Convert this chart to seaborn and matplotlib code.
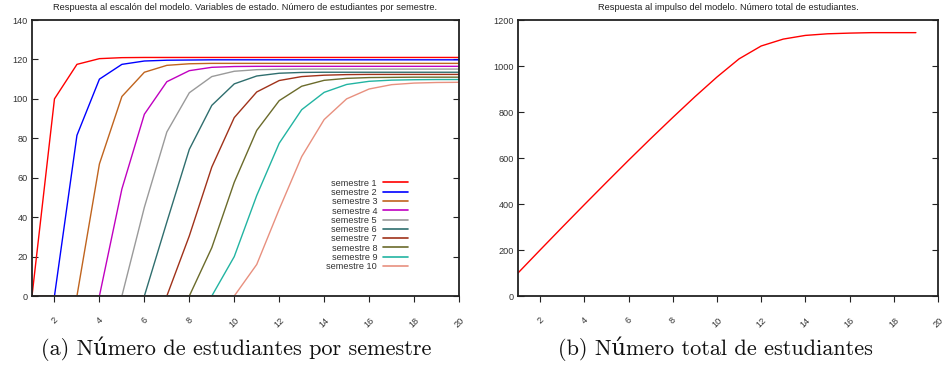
import numpy as np
import pandas as pd
import seaborn as sns
import matplotlib.pyplot as plt
from matplotlib.lines import Line2D

# Time steps (semesters) of the simulation
pasos = list(range(1, 21))

# Step response: students enrolled in each semester (state variables)
semestre_1 = [0, 100, 117.5, 120.4, 120.9, 121, 121, 121, 121, 121, 121, 121, 121, 121, 121, 121, 121, 121, 121, 121]
semestre_2 = [0, 0, 81.5, 110, 117.5, 119.2, 119.6, 119.7, 119.8, 119.8, 119.8, 119.8, 119.8, 119.8, 119.8, 119.8, 119.8, 119.8, 119.8, 119.8]
semestre_3 = [0, 0, 0, 67, 101.2, 113.5, 117, 117.8, 118, 118, 118, 118, 118, 118, 118, 118, 118, 118, 118, 118]
semestre_4 = [0, 0, 0, 0, 54.3, 92.2, 108.7, 114.3, 116, 116.4, 116.5, 116.5, 116.5, 116.5, 116.5, 116.5, 116.5, 116.5, 116.5, 116.5]
semestre_5 = [0, 0, 0, 0, 0, 45, 83.2, 103.1, 111.3, 114, 114.8, 115, 115.1, 115.1, 115.1, 115.1, 115.1, 115.1, 115.1, 115.1]
semestre_6 = [0, 0, 0, 0, 0, 0, 37.5, 74.4, 96.7, 107.6, 111.6, 113, 113.4, 113.5, 113.5, 113.5, 113.5, 113.5, 113.5, 113.5]
semestre_7 = [0, 0, 0, 0, 0, 0, 0, 30.5, 65.4, 90.5, 103.5, 109.3, 111.3, 112, 112.3, 112.4, 112.4, 112.4, 112.4, 112.4]
semestre_8 = [0, 0, 0, 0, 0, 0, 0, 0, 24.5, 57.7, 84, 99.1, 106.4, 109.4, 110.4, 110.8, 110.9, 111, 111, 111]
semestre_9 = [0, 0, 0, 0, 0, 0, 0, 0, 0, 20, 51, 77.5, 94.5, 103.3, 107.3, 108.9, 109.5, 109.7, 109.8, 109.8]
semestre_10 = [0, 0, 0, 0, 0, 0, 0, 0, 0, 0, 16, 44, 70.7, 89.5, 100, 105, 107.2, 108, 108.3, 108.4]

etiquetas = ["semestre 1", "semestre 2", "semestre 3", "semestre 4", "semestre 5",
             "semestre 6", "semestre 7", "semestre 8", "semestre 9", "semestre 10"]
colores = ["#ff0000", "#0000ff", "#c0641e", "#c000c0", "#9a9a9a",
           "#2f6e6e", "#a0321a", "#6b6b2b", "#22b4a2", "#e8907f"]

# Impulse response: total number of students
pasos_total = list(range(1, 20))
total = [100, 200, 299, 397, 494, 590, 684, 776, 866, 952, 1031, 1087, 1117, 1133, 1140, 1143, 1145, 1145, 1145]

series = [semestre_1, semestre_2, semestre_3, semestre_4, semestre_5,
          semestre_6, semestre_7, semestre_8, semestre_9, semestre_10]
df = pd.DataFrame({
    "paso": np.tile(pasos, len(series)),
    "valor": np.concatenate(series),
    "serie": np.repeat(etiquetas, len(pasos)),
})
df_total = pd.DataFrame({"paso": pasos_total, "total": total})

sns.set_theme(style="white")
plt.rcParams["font.family"] = ["Liberation Sans", "DejaVu Sans"]

fig = plt.figure(figsize=(9.45, 3.68), dpi=100)
ax1 = fig.add_axes([32 / 945, 72 / 368, 427 / 945, 276 / 368])
ax2 = fig.add_axes([518 / 945, 72 / 368, 420 / 945, 276 / 368])

sns.lineplot(data=df, x="paso", y="valor", hue="serie", hue_order=etiquetas,
             palette=colores, linewidth=1.0, ax=ax1, legend=False)
sns.lineplot(data=df_total, x="paso", y="total", color="#ff0000", linewidth=1.0, ax=ax2)


def estilo(ax, ymax, ystep, fs_tick, fs_title, titulo):
    ax.set_xlim(1, 20)
    ax.set_ylim(0, ymax)
    ax.set_xticks(range(2, 21, 2))
    ax.set_yticks(range(0, ymax + 1, ystep))
    ax.set_xlabel("")
    ax.set_ylabel("")
    for s in ax.spines.values():
        s.set_color("#222222")
        s.set_linewidth(1.3)
        s.set_visible(True)
    ax.tick_params(axis="y", which="both", direction="in", length=4, width=0.8,
                   color="#222222", left=True, right=True, labelsize=fs_tick,
                   labelcolor="#333333", pad=3)
    ax.tick_params(axis="x", which="both", direction="out", length=4, width=0.8,
                   color="#222222", bottom=True, top=False, labelsize=fs_tick,
                   labelcolor="#333333", pad=10)
    for lab in ax.get_xticklabels():
        lab.set_rotation(45)
        lab.set_ha("center")
        lab.set_va("top")
    ax.set_title(titulo, fontsize=fs_title, color="#222222", pad=7)


estilo(ax1, 140, 20, 6.6, 6.7,
       "Respuesta al escalón del modelo. Variables de estado. Número de estudiantes por semestre.")
estilo(ax2, 1200, 200, 6.6, 6.7,
       "Respuesta al impulso del modelo. Número total de estudiantes.")

handles = [Line2D([], [], color=c, linewidth=1.2) for c in colores]
leg = ax1.legend(handles, etiquetas, loc="upper right", bbox_to_anchor=(0.881, 0.425),
                 frameon=False, markerfirst=False, fontsize=6.6, handlelength=2.8,
                 handletextpad=0.6, labelspacing=0.03, borderpad=0, borderaxespad=0)
for t in leg.get_texts():
    t.set_color("#333333")
for col in leg._legend_handle_box.get_children():
    col.align = "right"

cap_font = ["cmr10", "DejaVu Serif"]
fig.text(236 / 945, 1 - 349 / 368, "(a) Número de estudiantes por semestre",
         ha="center", va="center", fontsize=16, family=cap_font, color="#111111")
fig.text(715 / 945, 1 - 349 / 368, "(b) Número total de estudiantes",
         ha="center", va="center", fontsize=16, family=cap_font, color="#111111")

fig.savefig("out.png", dpi=100)
